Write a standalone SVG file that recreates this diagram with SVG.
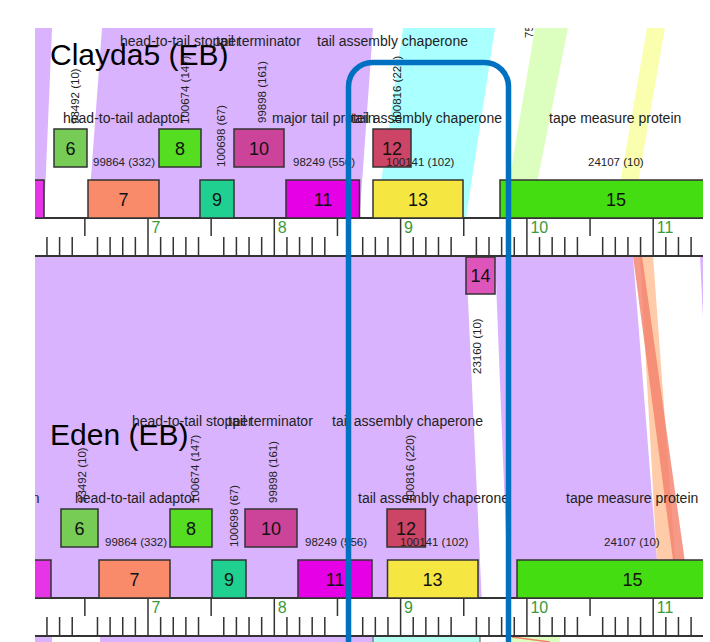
<svg xmlns="http://www.w3.org/2000/svg" width="710" height="642" viewBox="0 0 710 642">
<style>
.fn{font-family:"Liberation Sans",Arial,sans-serif;font-size:14px;fill:#222}
.ph{font-family:"Liberation Sans",Arial,sans-serif;font-size:11.5px;fill:#222}
.ttl{font-family:"Liberation Sans",Arial,sans-serif;font-size:30px;fill:#000}
.gn{font-family:"Liberation Sans",Arial,sans-serif;font-size:18px;fill:#111;text-anchor:middle}
.gb{stroke:#333;stroke-width:1.5}
.rl{font-family:"Liberation Sans",Arial,sans-serif;font-size:16px;fill:#3a9a3a}
.tk{stroke:#333;stroke-width:1.5;fill:none}
</style>
<defs>
<clipPath id="clip"><rect x="35" y="28" width="668" height="614"/></clipPath>
<g id="ruler">
<rect x="35" y="218" width="668" height="38" fill="#fff"/>
<path class="tk" d="M148 218V256M274.3 218V256M400.6 218V256M526.9 218V256M653.2 218V256M84.85 218V236M211.15 218V236M337.45 218V236M463.75 218V236M590.05 218V236M46.96 237V256M59.59 237V256M72.22 237V256M97.48 237V256M110.11 237V256M122.74 237V256M135.37 237V256M160.63 237V256M173.26 237V256M185.89 237V256M198.52 237V256M223.78 237V256M236.41 237V256M249.04 237V256M261.67 237V256M286.93 237V256M299.56 237V256M312.19 237V256M324.82 237V256M350.08 237V256M362.71 237V256M375.34 237V256M387.97 237V256M413.23 237V256M425.86 237V256M438.49 237V256M451.12 237V256M476.38 237V256M489.01 237V256M501.64 237V256M514.27 237V256M539.53 237V256M552.16 237V256M564.79 237V256M577.42 237V256M602.68 237V256M615.31 237V256M627.94 237V256M640.57 237V256M665.83 237V256M678.46 237V256M691.09 237V256"/>
<path d="M35 218H703M35 256H703" stroke="#333" stroke-width="2"/>
<text class="rl" x="151.5" y="233">7</text>
<text class="rl" x="277.8" y="233">8</text>
<text class="rl" x="404.1" y="233">9</text>
<text class="rl" x="530.4" y="233">10</text>
<text class="rl" x="656.7" y="233">11</text>
</g>
</defs>
<rect width="710" height="642" fill="#fff"/>
<g clip-path="url(#clip)">
<g id="connectors">
<polygon points="35,28 52,28 44,218 35,218" fill="#d9b3fd"/>
<polygon points="102,28 373,28 359.5,218 88,218" fill="#d9b3fd"/>
<polygon points="403,28 495,28 466,218 376,218" fill="#aaffff"/>
<polygon points="535,28 568,28 530,218 503,218" fill="#dcffc0"/>
<polygon points="647,28 665,28 632,218 614,218" fill="#faffb0"/>
<polygon points="35,256 466,256 481.7,598 35,598" fill="#d9b3fd"/>
<polygon points="495,256 633,256 660,598 508.5,598" fill="#d9b3fd"/>
<polygon points="640,256 653,256 678,598 659,598" fill="#ffcba8"/>
<polygon points="633,256 642,256 690,598 678,598" fill="#f4806a" fill-opacity="0.8"/>
<polygon points="700,256 703,256 703,318" fill="#d9b3fd"/>
<polygon points="35,636 52,636 52,642 35,642" fill="#d9b3fd"/>
<polygon points="100,636 373,636 373,642 100,642" fill="#d9b3fd"/>
<rect x="373" y="636" width="107" height="8" fill="#b3fff0" stroke="#555" stroke-width="1"/>
<polygon points="512,636 560,636 560,642 512,642" fill="#dcffc0"/>
<path d="M512 637L550 642" stroke="#f4806a" stroke-width="1.5"/>
</g>
<g id="clayda5">
<text class="ttl" x="50" y="65">Clayda5 (EB)</text>
<text class="ph" x="533" y="38" transform="rotate(-90 533 38)">75</text>
<use href="#ruler"/>
<g id="c-g5"><rect class="gb" x="30" y="180" width="14" height="38" fill="#e635e6"/></g>
<g id="c-g6"><rect class="gb" x="54" y="129" width="33" height="38" fill="#77cc55"/><text class="gn" x="70.5" y="154.5">6</text><text class="ph" x="78.5" y="124" transform="rotate(-90 78.5 124)">93492 (10)</text></g>
<g id="c-g7"><rect class="gb" x="88" y="180" width="71" height="38" fill="#f98b6b"/><text class="gn" x="123.5" y="205.5">7</text><text class="ph" x="93" y="166">99864 (332)</text></g>
<g id="c-g8"><rect class="gb" x="159" y="129" width="42" height="38" fill="#55dd22"/><text class="gn" x="180" y="154.5">8</text><text class="ph" x="188.5" y="124" transform="rotate(-90 188.5 124)">100674 (147)</text></g>
<g id="c-g9"><rect class="gb" x="200" y="180" width="34" height="38" fill="#1fd090"/><text class="gn" x="217" y="205.5">9</text><text class="ph" x="225" y="167" transform="rotate(-90 225 167)">100698 (67)</text></g>
<g id="c-g10"><rect class="gb" x="234" y="129" width="50" height="38" fill="#cc4499"/><text class="gn" x="259" y="154.5">10</text><text class="ph" x="266" y="123" transform="rotate(-90 266 123)">99898 (161)</text></g>
<g id="c-g11"><rect class="gb" x="286" y="180" width="73.5" height="38" fill="#e600e6"/><text class="gn" x="323" y="205.5">11</text><text class="ph" x="293" y="166">98249 (556)</text></g>
<g id="c-g12"><rect class="gb" x="373" y="129" width="38" height="38" fill="#cc4466"/><text class="gn" x="392" y="154.5">12</text><text class="ph" x="401" y="124" transform="rotate(-90 401 124)">100816 (220)</text></g>
<g id="c-g13"><rect class="gb" x="373" y="180" width="90" height="38" fill="#f5e642"/><text class="gn" x="418" y="205.5">13</text><text class="ph" x="386" y="166">100141 (102)</text></g>
<g id="c-g14"><rect class="gb" x="466" y="257" width="29" height="37" fill="#dd55bb"/><text class="gn" x="480.5" y="282">14</text><text class="ph" x="481" y="374" transform="rotate(-90 481 374)">23160 (10)</text></g>
<g id="c-g15"><rect class="gb" x="500" y="180" width="232" height="38" fill="#44dd11"/><text class="gn" x="616" y="205.5">15</text><text class="ph" x="588" y="166">24107 (10)</text></g>
<text class="fn" x="120" y="46">head-to-tail stopper</text>
<text class="fn" x="216" y="46">tail terminator</text>
<text class="fn" x="317" y="46">tail assembly chaperone</text>
<text class="fn" x="63" y="123">head-to-tail adaptor</text>
<text class="fn" x="272" y="123">major tail protein</text>
<text class="fn" x="351" y="123">tail assembly chaperone</text>
<text class="fn" x="549" y="123">tape measure protein</text>
</g>
<g id="eden">
<text class="ttl" x="50" y="445">Eden (EB)</text>
<use href="#ruler" y="380"/>
<g id="e-g5"><rect class="gb" x="30" y="560" width="21" height="38" fill="#e635e6"/></g>
<g id="e-g6"><rect class="gb" x="61" y="509" width="37" height="38" fill="#77cc55"/><text class="gn" x="79.5" y="534.5">6</text><text class="ph" x="85.5" y="503" transform="rotate(-90 85.5 503)">93492 (10)</text></g>
<g id="e-g7"><rect class="gb" x="99" y="560" width="71" height="38" fill="#f98b6b"/><text class="gn" x="134.5" y="585.5">7</text><text class="ph" x="105" y="546">99864 (332)</text></g>
<g id="e-g8"><rect class="gb" x="170" y="509" width="42" height="38" fill="#55dd22"/><text class="gn" x="191" y="534.5">8</text><text class="ph" x="199" y="503" transform="rotate(-90 199 503)">100674 (147)</text></g>
<g id="e-g9"><rect class="gb" x="212" y="560" width="34" height="38" fill="#1fd090"/><text class="gn" x="229" y="585.5">9</text><text class="ph" x="238" y="547" transform="rotate(-90 238 547)">100698 (67)</text></g>
<g id="e-g10"><rect class="gb" x="245" y="509" width="52" height="38" fill="#cc4499"/><text class="gn" x="271" y="534.5">10</text><text class="ph" x="277" y="503" transform="rotate(-90 277 503)">99898 (161)</text></g>
<g id="e-g11"><rect class="gb" x="298" y="560" width="74" height="38" fill="#e600e6"/><text class="gn" x="335" y="585.5">11</text><text class="ph" x="305" y="546">98249 (556)</text></g>
<g id="e-g12"><rect class="gb" x="387" y="509" width="38.5" height="38" fill="#cc4466"/><text class="gn" x="406" y="534.5">12</text><text class="ph" x="414" y="503" transform="rotate(-90 414 503)">100816 (220)</text></g>
<g id="e-g13"><rect class="gb" x="387.5" y="560" width="90.5" height="38" fill="#f5e642"/><text class="gn" x="432.5" y="585.5">13</text><text class="ph" x="400" y="546">100141 (102)</text></g>
<g id="e-g15"><rect class="gb" x="517" y="560" width="231" height="38" fill="#44dd11"/><text class="gn" x="632.5" y="585.5">15</text><text class="ph" x="604" y="546">24107 (10)</text></g>
<text class="fn" x="39.5" y="503" text-anchor="end">n</text>
<text class="fn" x="132" y="426">head-to-tail stopper</text>
<text class="fn" x="228" y="426">tail terminator</text>
<text class="fn" x="332" y="426">tail assembly chaperone</text>
<text class="fn" x="75" y="503">head-to-tail adaptor</text>
<text class="fn" x="358" y="503">tail assembly chaperone</text>
<text class="fn" x="566" y="503">tape measure protein</text>
</g>
</g>
<g id="highlight">
<path d="M348.5 660V86.5A24 24 0 0 1 372.5 62.5H484.5A24 24 0 0 1 508.5 86.5V660" fill="none" stroke="#0070c0" stroke-width="5.5"/>
</g>
</svg>
